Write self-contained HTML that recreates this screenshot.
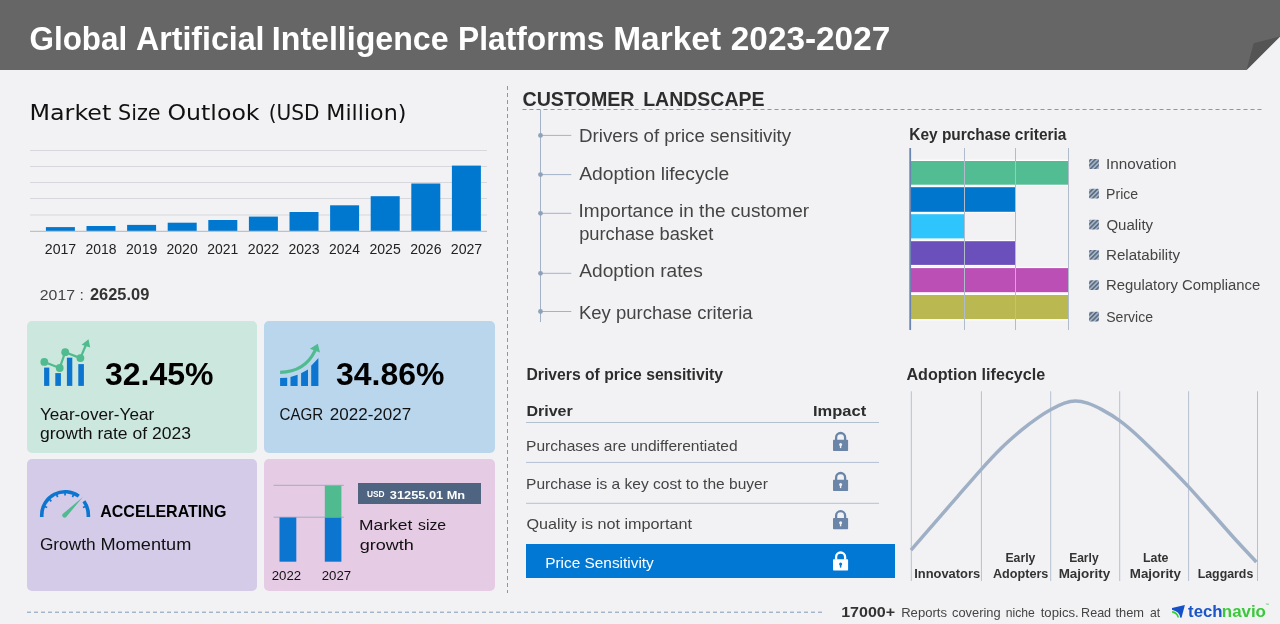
<!DOCTYPE html>
<html lang="en">
<head>
<meta charset="utf-8">
<title>Global Artificial Intelligence Platforms Market 2023-2027</title>
<style>
html,body{margin:0;padding:0;}
body{width:1280px;height:624px;overflow:hidden;background:#f2f2f4;font-family:"Liberation Sans",sans-serif;}
#page{position:relative;width:1280px;height:624px;overflow:hidden;background:#f2f2f4;}
.t{position:absolute;transform-origin:0 0;white-space:nowrap;line-height:1;margin:0;padding:0;display:block;font-style:normal;}
h1,h2,h3,b,li,span{margin:0;padding:0;}
ul{margin:0;padding:0;list-style:none;}
.abs{position:absolute;}
#hdr{position:absolute;left:0;top:0;width:1280px;height:70px;background:#666;clip-path:polygon(0 0,1280px 0,1280px 36.5px,1246.5px 70px,0 70px);}
#fold{position:absolute;left:0;top:0;width:1280px;height:70px;}
.card{position:absolute;border-radius:5px;}
#c1{left:27px;top:321px;width:230px;height:131.5px;background:#cce7dd;}
#c2{left:264px;top:321px;width:231px;height:131.5px;background:#b9d6ed;}
#c3{left:27px;top:459px;width:230px;height:131.5px;background:#d3cbe8;}
#c4{left:264px;top:459px;width:231px;height:131.5px;background:#e6cbe5;}
#usd{position:absolute;left:358px;top:483px;width:123px;height:20.7px;background:#4f6480;}
#ps{position:absolute;left:526px;top:544.2px;width:369px;height:34.3px;background:#0078d4;}
svg{position:absolute;left:0;top:0;overflow:visible;}
</style>
</head>
<body>
<div id="page">

<header>
  <div id="hdr"></div>
  <svg id="fold" width="1280" height="70" viewBox="0 0 1280 70"><polygon points="1246.5,70 1253.7,43.3 1280,36.5" fill="#545454"/></svg>
  <h1 style="margin:0;font-size:32px;font-weight:700"><span class="t" id="t0" style="left:29px;top:22px;font-size:33px;font-weight:700;color:#fff;font-family:'Liberation Sans', sans-serif;transform:translateX(0.51px) scaleX(0.9508);">Global</span>
<span class="t" id="t1" style="left:135px;top:22px;font-size:33px;font-weight:700;color:#fff;font-family:'Liberation Sans', sans-serif;transform:translateX(0.98px) scaleX(0.9737);">Artificial</span>
<span class="t" id="t2" style="left:271px;top:22px;font-size:33px;font-weight:700;color:#fff;font-family:'Liberation Sans', sans-serif;transform:translateX(0.83px) scaleX(0.9735);">Intelligence</span>
<span class="t" id="t3" style="left:457px;top:22px;font-size:33px;font-weight:700;color:#fff;font-family:'Liberation Sans', sans-serif;transform:translateX(0.97px) scaleX(0.9627);">Platforms</span>
<span class="t" id="t4" style="left:613px;top:22px;font-size:33px;font-weight:700;color:#fff;font-family:'Liberation Sans', sans-serif;transform:translateX(0.27px) scaleX(1.0128);">Market</span>
<span class="t" id="t5" style="left:730px;top:22px;font-size:33px;font-weight:700;color:#fff;font-family:'Liberation Sans', sans-serif;transform:translateX(0.83px) scaleX(1.0101);">2023-2027</span></h1>
</header>

<section id="market">
  <h2 style="margin:0;font-size:21px;font-weight:400"><span class="t" id="t6" style="left:29px;top:102px;font-size:21.5px;font-weight:400;color:#111;font-family:'DejaVu Sans', 'Liberation Sans', sans-serif;transform:translateX(0.52px) scaleX(1.1061);">Market</span>
<span class="t" id="t7" style="left:117px;top:102px;font-size:21.5px;font-weight:400;color:#111;font-family:'DejaVu Sans', 'Liberation Sans', sans-serif;transform:translateX(1.00px) scaleX(0.9662);">Size</span>
<span class="t" id="t8" style="left:167px;top:102px;font-size:21.5px;font-weight:400;color:#111;font-family:'DejaVu Sans', 'Liberation Sans', sans-serif;transform:translateX(0.41px) scaleX(1.1009);">Outlook</span>
<span class="t" id="t9" style="left:268px;top:102px;font-size:21.5px;font-weight:400;color:#111;font-family:'DejaVu Sans', 'Liberation Sans', sans-serif;transform:translateX(0.70px) scaleX(0.9375);">(USD</span>
<span class="t" id="t10" style="left:326px;top:102px;font-size:21.5px;font-weight:400;color:#111;font-family:'DejaVu Sans', 'Liberation Sans', sans-serif;transform:translateX(0.32px) scaleX(1.0314);">Million)</span></h2>
  <svg width="1280" height="624" viewBox="0 0 1280 624">
    <g stroke="#d6d8dd" stroke-width="1">
      <line x1="30" y1="150.5" x2="487" y2="150.5"/>
      <line x1="30" y1="166.5" x2="487" y2="166.5"/>
      <line x1="30" y1="182.5" x2="487" y2="182.5"/>
      <line x1="30" y1="198.5" x2="487" y2="198.5"/>
      <line x1="30" y1="215" x2="487" y2="215"/>
    </g>
    <g fill="#0078d0">
      <rect x="45.9" y="227.1" width="29" height="4"/>
      <rect x="86.5" y="226" width="29" height="5.1"/>
      <rect x="127.1" y="224.9" width="29" height="6.2"/>
      <rect x="167.7" y="222.7" width="29" height="8.4"/>
      <rect x="208.3" y="220" width="29" height="11.1"/>
      <rect x="248.9" y="216.6" width="29" height="14.5"/>
      <rect x="289.5" y="212" width="29" height="19.1"/>
      <rect x="330.1" y="205.3" width="29" height="25.8"/>
      <rect x="370.7" y="196.2" width="29" height="34.9"/>
      <rect x="411.3" y="183.5" width="29" height="47.6"/>
      <rect x="451.9" y="165.6" width="29" height="65.5"/>
    </g>
    <line x1="30" y1="231.3" x2="487" y2="231.3" stroke="#bfc1c6" stroke-width="1.2"/>
  </svg>
  <span class="t" id="t11" style="left:44px;top:242px;font-size:14px;font-weight:400;color:#222;font-family:'Liberation Sans', sans-serif;transform:translateX(0.78px) scaleX(1.0096);">2017</span>
<span class="t" id="t12" style="left:85px;top:242px;font-size:14px;font-weight:400;color:#222;font-family:'Liberation Sans', sans-serif;transform:translateX(0.47px) scaleX(0.9974);">2018</span>
<span class="t" id="t13" style="left:126px;top:242px;font-size:14px;font-weight:400;color:#222;font-family:'Liberation Sans', sans-serif;transform:translateX(0.06px) scaleX(1.0035);">2019</span>
<span class="t" id="t14" style="left:166px;top:242px;font-size:14px;font-weight:400;color:#222;font-family:'Liberation Sans', sans-serif;transform:translateX(0.49px) scaleX(1.0028);">2020</span>
<span class="t" id="t15" style="left:207px;top:242px;font-size:14px;font-weight:400;color:#222;font-family:'Liberation Sans', sans-serif;transform:translateX(0.23px) scaleX(0.9967);">2021</span>
<span class="t" id="t16" style="left:247px;top:242px;font-size:14px;font-weight:400;color:#222;font-family:'Liberation Sans', sans-serif;transform:translateX(0.78px) scaleX(1.0096);">2022</span>
<span class="t" id="t17" style="left:288px;top:242px;font-size:14px;font-weight:400;color:#222;font-family:'Liberation Sans', sans-serif;transform:translateX(0.47px) scaleX(1.0004);">2023</span>
<span class="t" id="t18" style="left:329px;top:242px;font-size:14px;font-weight:400;color:#222;font-family:'Liberation Sans', sans-serif;transform:translateX(0.10px) scaleX(0.9858);">2024</span>
<span class="t" id="t19" style="left:369px;top:242px;font-size:14px;font-weight:400;color:#222;font-family:'Liberation Sans', sans-serif;transform:translateX(0.49px) scaleX(1.0036);">2025</span>
<span class="t" id="t20" style="left:410px;top:242px;font-size:14px;font-weight:400;color:#222;font-family:'Liberation Sans', sans-serif;transform:translateX(0.22px) scaleX(1.0029);">2026</span>
<span class="t" id="t21" style="left:450px;top:242px;font-size:14px;font-weight:400;color:#222;font-family:'Liberation Sans', sans-serif;transform:translateX(0.78px) scaleX(1.0096);">2027</span>
  <p style="margin:0"><span class="t" id="t22" style="left:39px;top:287px;font-size:15.2px;font-weight:400;color:#444;font-family:'Liberation Sans', sans-serif;transform:translateX(0.79px) scaleX(1.0416);">2017 :</span>
<b class="t" id="t23" style="left:89px;top:287px;font-size:15.8px;font-weight:700;color:#333;font-family:'Liberation Sans', sans-serif;transform:translateX(0.97px) scaleX(1.0387);">2625.09</b></p>
</section>

<section id="cards">
  <div class="card" id="c1"></div>
  <div class="card" id="c2"></div>
  <div class="card" id="c3"></div>
  <div class="card" id="c4"></div>
  <svg width="1280" height="624" viewBox="0 0 1280 624">
    <!-- card 1 icon -->
    <g fill="#0b75d0">
      <rect x="44.1" y="367.6" width="5.2" height="18.3"/>
      <rect x="55.3" y="373.1" width="5.6" height="12.8"/>
      <rect x="66.9" y="357.7" width="5.4" height="28.2"/>
      <rect x="78.3" y="364.1" width="5.6" height="21.8"/>
    </g>
    <g fill="#4fbb8e" stroke="none">
      <polyline points="44.3,361.9 59.7,368 65.2,352.2 80.4,358.1 86.3,344" fill="none" stroke="#4fbb8e" stroke-width="2.2" stroke-linejoin="round"/>
      <circle cx="44.3" cy="361.9" r="3.9"/>
      <circle cx="59.7" cy="368" r="3.9"/>
      <circle cx="65.2" cy="352.2" r="3.9"/>
      <circle cx="80.4" cy="358.1" r="3.9"/>
      <polygon points="88.5,339.3 81.6,344.8 90.2,347.6"/>
    </g>
    <!-- card 2 icon -->
    <g fill="#0b75d0">
      <polygon points="280.1,378 287.2,377.7 287.2,385.9 280.1,385.9"/>
      <polygon points="290.5,376.9 297.6,374.8 297.6,385.9 290.5,385.9"/>
      <polygon points="301.1,373.3 308,369.5 308,385.9 301.1,385.9"/>
      <polygon points="311.2,365.8 318.4,358.1 318.4,385.9 311.2,385.9"/>
    </g>
    <path d="M280.1,372.3 Q305,372 315.2,350.4" fill="none" stroke="#4fbb8e" stroke-width="3.2"/>
    <polygon points="309.9,348.7 317.8,343.8 320,352.6" fill="#4fbb8e"/>
    <!-- card 3 gauge -->
    <g id="gauge">
      <path d="M41.75,517.1 L41.75,515.00 A23.3,23.3 0 0 1 78.75,496.15 M83.90,501.30 A23.3,23.3 0 0 1 88.35,515.00 L88.35,517.1" fill="none" stroke="#0b75d0" stroke-width="3.6"/>
      <g stroke="#0b75d0" stroke-width="1.7"><line x1="44.72" y1="506.58" x2="47.13" y2="507.58"/><line x1="49.49" y1="499.44" x2="51.33" y2="501.28"/><line x1="56.63" y1="494.67" x2="57.63" y2="497.08"/><line x1="65.05" y1="493.00" x2="65.05" y2="495.60"/><line x1="73.47" y1="494.67" x2="72.47" y2="497.08"/><line x1="85.38" y1="506.58" x2="82.97" y2="507.58"/></g>
      <path d="M66.24,517.02 L82.90,496.90 L62.96,513.78 A2.3,2.3 0 0 0 66.24,517.02 Z" fill="#4fbb8e"/>
    </g>
    <!-- card 4 chart -->
    <line x1="273.6" y1="485.3" x2="343.9" y2="485.3" stroke="#97a8be" stroke-width="0.9"/>
    <line x1="273.6" y1="517.2" x2="343.9" y2="517.2" stroke="#97a8be" stroke-width="0.9"/>
    <rect x="279.5" y="517.5" width="16.8" height="44.2" fill="#0b75d0"/>
    <rect x="324.8" y="517.5" width="16.6" height="44.2" fill="#0b75d0"/>
    <rect x="324.8" y="485.6" width="16.6" height="31.6" fill="#4fbb8e"/>
  </svg>
  <b class="t" id="t24" style="left:104px;top:359px;font-size:31px;font-weight:700;color:#000;font-family:'Liberation Sans', sans-serif;transform:translateX(0.98px) scaleX(1.0326);">32.45%</b>
<span class="t" id="t25" style="left:39px;top:407px;font-size:15.8px;font-weight:400;color:#111;font-family:'Liberation Sans', sans-serif;transform:translateX(0.90px) scaleX(1.0879);">Year-over-Year</span>
<span class="t" id="t26" style="left:39px;top:426px;font-size:15.8px;font-weight:400;color:#111;font-family:'Liberation Sans', sans-serif;transform:translateX(0.97px) scaleX(1.1091);">growth rate of 2023</span>
  <b class="t" id="t27" style="left:335px;top:359px;font-size:31px;font-weight:700;color:#000;font-family:'Liberation Sans', sans-serif;transform:translateX(0.99px) scaleX(1.0302);">34.86%</b>
<span class="t" id="t28" style="left:279px;top:407px;font-size:15.8px;font-weight:400;color:#111;font-family:'Liberation Sans', sans-serif;transform:translateX(0.47px) scaleX(0.9587);">CAGR</span>
<span class="t" id="t29" style="left:329px;top:407px;font-size:15.8px;font-weight:400;color:#111;font-family:'Liberation Sans', sans-serif;transform:translateX(0.80px) scaleX(1.0767);">2022-2027</span>
  <b class="t" id="t30" style="left:100px;top:503px;font-size:16.3px;font-weight:700;color:#000;font-family:'Liberation Sans', sans-serif;transform:translateX(0.23px) scaleX(0.9842);">ACCELERATING</b>
<span class="t" id="t31" style="left:39px;top:536px;font-size:16.2px;font-weight:400;color:#111;font-family:'Liberation Sans', sans-serif;transform:translateX(0.93px) scaleX(1.0673);">Growth</span>
<span class="t" id="t32" style="left:100px;top:536px;font-size:16.2px;font-weight:400;color:#111;font-family:'Liberation Sans', sans-serif;transform:translateX(0.50px) scaleX(1.1210);">Momentum</span>
  <div id="usd"></div>
  <span class="t" id="t33" style="left:271px;top:569px;font-size:13.7px;font-weight:400;color:#111;font-family:'Liberation Sans', sans-serif;transform:translateX(0.73px) scaleX(0.9666);">2022</span>
<span class="t" id="t34" style="left:321px;top:569px;font-size:13.7px;font-weight:400;color:#111;font-family:'Liberation Sans', sans-serif;transform:translateX(0.67px) scaleX(0.9660);">2027</span>
<span class="t" id="t35" style="left:366px;top:489px;font-size:9.8px;font-weight:700;color:#fff;font-family:'Liberation Sans', sans-serif;transform:translateX(0.99px) scaleX(0.8534);">USD</span>
<b class="t" id="t36" style="left:389px;top:490px;font-size:11.8px;font-weight:700;color:#fff;font-family:'Liberation Sans', sans-serif;transform:translateX(0.84px) scaleX(1.0828);">31255.01 Mn</b>
<span class="t" id="t37" style="left:359px;top:517px;font-size:15.5px;font-weight:400;color:#111;font-family:'Liberation Sans', sans-serif;transform:translateX(0.09px) scaleX(1.1245);">Market</span>
<span class="t" id="t38" style="left:417px;top:517px;font-size:15.5px;font-weight:400;color:#111;font-family:'Liberation Sans', sans-serif;transform:translateX(0.99px) scaleX(1.0202);">size</span>
<span class="t" id="t39" style="left:359px;top:537px;font-size:15.5px;font-weight:400;color:#111;font-family:'Liberation Sans', sans-serif;transform:translateX(0.68px) scaleX(1.1647);">growth</span>
</section>

<section id="landscape">
  <svg width="1280" height="624" viewBox="0 0 1280 624">
    <line x1="507.5" y1="86" x2="507.5" y2="593" stroke="#7f9ab5" stroke-width="1" stroke-dasharray="4 3"/>
    <line x1="522.5" y1="109.5" x2="1262" y2="109.5" stroke="#7f9ab5" stroke-width="1" stroke-dasharray="4 3"/>
    <line x1="27" y1="612.2" x2="822" y2="612.2" stroke="#7f9ab5" stroke-width="1" stroke-dasharray="4 3"/>
    <!-- tree -->
    <g stroke="#a3b2c7" stroke-width="1" fill="#8fa1b9">
      <line x1="540.5" y1="110" x2="540.5" y2="322"/>
      <line x1="540.5" y1="135.4" x2="571.3" y2="135.4"/>
      <line x1="540.5" y1="174.6" x2="571.3" y2="174.6"/>
      <line x1="540.5" y1="213.3" x2="571.3" y2="213.3"/>
      <line x1="540.5" y1="273.3" x2="571.3" y2="273.3"/>
      <line x1="540.5" y1="311.5" x2="571.3" y2="311.5"/>
      <circle cx="540.5" cy="135.4" r="2.4" stroke="none"/>
      <circle cx="540.5" cy="174.6" r="2.4" stroke="none"/>
      <circle cx="540.5" cy="213.3" r="2.4" stroke="none"/>
      <circle cx="540.5" cy="273.3" r="2.4" stroke="none"/>
      <circle cx="540.5" cy="311.5" r="2.4" stroke="none"/>
    </g>
  </svg>
  <h2 style="margin:0;font-size:20px"><b class="t" id="t40" style="left:522px;top:88px;font-size:21px;font-weight:700;color:#2d2d2d;font-family:'Liberation Sans', sans-serif;transform:translateX(0.48px) scaleX(0.9357);">CUSTOMER</b>
<b class="t" id="t41" style="left:643px;top:88px;font-size:21px;font-weight:700;color:#2d2d2d;font-family:'Liberation Sans', sans-serif;transform:translateX(0.18px) scaleX(0.9289);">LANDSCAPE</b></h2>
  <ul><li class="t" id="t42" style="left:579px;top:128px;font-size:17.5px;font-weight:400;color:#444;font-family:'Liberation Sans', sans-serif;transform:translateX(0.04px) scaleX(1.0690);">Drivers of price sensitivity</li>
<li class="t" id="t43" style="left:579px;top:166px;font-size:17.5px;font-weight:400;color:#444;font-family:'Liberation Sans', sans-serif;transform:translateX(0.25px) scaleX(1.1015);">Adoption lifecycle</li>
<li class="t" id="t44" style="left:578px;top:203px;font-size:17.5px;font-weight:400;color:#444;font-family:'Liberation Sans', sans-serif;transform:translateX(0.54px) scaleX(1.0874);">Importance in the customer</li>
<li class="t" id="t45" style="left:579px;top:226px;font-size:17.5px;font-weight:400;color:#444;font-family:'Liberation Sans', sans-serif;transform:translateX(0.13px) scaleX(1.0453);">purchase basket</li>
<li class="t" id="t46" style="left:579px;top:263px;font-size:17.5px;font-weight:400;color:#444;font-family:'Liberation Sans', sans-serif;transform:translateX(0.27px) scaleX(1.0937);">Adoption rates</li>
<li class="t" id="t47" style="left:578px;top:305px;font-size:17.5px;font-weight:400;color:#444;font-family:'Liberation Sans', sans-serif;transform:translateX(0.88px) scaleX(1.0572);">Key purchase criteria</li></ul>
</section>

<section id="kpc">
  <svg width="1280" height="624" viewBox="0 0 1280 624">
    <defs>
      <pattern id="hatch" width="3.2" height="3.2" patternUnits="userSpaceOnUse" patternTransform="rotate(-45)">
        <rect width="3.2" height="3.2" fill="#a9b8ca"/>
        <rect width="3.2" height="1.7" fill="#5c6c82"/>
      </pattern>
    </defs>
    <g>
      <rect x="910" y="159.7" width="158.2" height="26.3" fill="#fff"/>
      <rect x="910" y="161.0" width="158.2" height="23.7" fill="#52bc93"/>
      <rect x="910" y="185.9" width="105.2" height="27.2" fill="#fff"/>
      <rect x="910" y="187.2" width="105.2" height="24.6" fill="#0077cc"/>
      <rect x="910" y="212.9" width="54.2" height="26.8" fill="#fff"/>
      <rect x="910" y="214.2" width="54.2" height="24.2" fill="#2ec4fc"/>
      <rect x="910" y="239.9" width="105.2" height="26.3" fill="#fff"/>
      <rect x="910" y="241.2" width="105.2" height="23.7" fill="#6b4fbb"/>
      <rect x="910" y="266.8" width="158.2" height="26.7" fill="#fff"/>
      <rect x="910" y="268.1" width="158.2" height="24.1" fill="#bb4fb5"/>
      <rect x="910" y="293.7" width="158.2" height="26.7" fill="#fff"/>
      <rect x="910" y="295.0" width="158.2" height="24.1" fill="#bab850"/>
    </g>
    <g stroke="#b0bbcc" stroke-width="1">
      <line x1="964.5" y1="148" x2="964.5" y2="330"/>
      <line x1="1015.5" y1="148" x2="1015.5" y2="330"/>
      <line x1="1068.5" y1="148" x2="1068.5" y2="330"/>
    </g>
    <line x1="910.2" y1="148" x2="910.2" y2="330" stroke="#6a86b0" stroke-width="1.8"/>
    <g fill="url(#hatch)">
      <rect x="1089.1" y="159.1" width="9.8" height="9.8" rx="1"/>
      <rect x="1089.1" y="188.8" width="9.8" height="9.8" rx="1"/>
      <rect x="1089.1" y="219.8" width="9.8" height="9.8" rx="1"/>
      <rect x="1089.1" y="250" width="9.8" height="9.8" rx="1"/>
      <rect x="1089.1" y="280.2" width="9.8" height="9.8" rx="1"/>
      <rect x="1089.1" y="311.7" width="9.8" height="9.8" rx="1"/>
    </g>
  </svg>
  <h3 class="t" id="t48" style="left:909px;top:127px;font-size:16px;font-weight:700;color:#2d2d2d;font-family:'Liberation Sans', sans-serif;transform:translateX(0.30px) scaleX(0.9650);">Key purchase criteria</h3>
<span class="t" id="t49" style="left:1106px;top:157px;font-size:14.7px;font-weight:400;color:#444;font-family:'Liberation Sans', sans-serif;transform:translateX(0.06px) scaleX(1.0379);">Innovation</span>
<span class="t" id="t50" style="left:1106px;top:187px;font-size:14.7px;font-weight:400;color:#444;font-family:'Liberation Sans', sans-serif;transform:translateX(0.08px) scaleX(0.9566);">Price</span>
<span class="t" id="t51" style="left:1106px;top:218px;font-size:14.7px;font-weight:400;color:#444;font-family:'Liberation Sans', sans-serif;transform:translateX(0.42px) scaleX(1.0212);">Quality</span>
<span class="t" id="t52" style="left:1105px;top:248px;font-size:14.7px;font-weight:400;color:#444;font-family:'Liberation Sans', sans-serif;transform:translateX(0.98px) scaleX(1.0301);">Relatability</span>
<span class="t" id="t53" style="left:1106px;top:278px;font-size:14.7px;font-weight:400;color:#444;font-family:'Liberation Sans', sans-serif;transform:translateX(0.05px) scaleX(1.0103);">Regulatory Compliance</span>
<span class="t" id="t54" style="left:1106px;top:310px;font-size:14.7px;font-weight:400;color:#444;font-family:'Liberation Sans', sans-serif;transform:translateX(0.25px) scaleX(0.9560);">Service</span>
</section>

<section id="drivers">
  <svg width="1280" height="624" viewBox="0 0 1280 624">
    
    <g stroke="#b3c0d2" stroke-width="1">
      <line x1="526" y1="422.5" x2="879" y2="422.5"/>
      <line x1="526" y1="462.4" x2="879" y2="462.4"/>
      <line x1="526" y1="503.3" x2="879" y2="503.3"/>
    </g>
  </svg>
  <div id="ps"></div>
  <svg width="1280" height="624" viewBox="0 0 1280 624">
    <g transform="translate(833,431.9)">
      <path d="M3.1,8.2 V5.6 A4.5,4.5 0 0 1 12.1,5.6 V8.2" fill="none" stroke-width="2.3" stroke="#6a85a8"/>
      <rect x="0" y="7.9" width="15.1" height="11.2" rx="0.8" fill="#6a85a8"/>
      <circle cx="7.6" cy="12.6" r="1.5" fill="#f2f2f4"/>
      <rect x="6.9" y="12.8" width="1.4" height="3.4" fill="#f2f2f4"/>
    </g>
    <g transform="translate(833,471.9)">
      <path d="M3.1,8.2 V5.6 A4.5,4.5 0 0 1 12.1,5.6 V8.2" fill="none" stroke-width="2.3" stroke="#6a85a8"/>
      <rect x="0" y="7.9" width="15.1" height="11.2" rx="0.8" fill="#6a85a8"/>
      <circle cx="7.6" cy="12.6" r="1.5" fill="#f2f2f4"/>
      <rect x="6.9" y="12.8" width="1.4" height="3.4" fill="#f2f2f4"/>
    </g>
    <g transform="translate(833,510.1)">
      <path d="M3.1,8.2 V5.6 A4.5,4.5 0 0 1 12.1,5.6 V8.2" fill="none" stroke-width="2.3" stroke="#6a85a8"/>
      <rect x="0" y="7.9" width="15.1" height="11.2" rx="0.8" fill="#6a85a8"/>
      <circle cx="7.6" cy="12.6" r="1.5" fill="#f2f2f4"/>
      <rect x="6.9" y="12.8" width="1.4" height="3.4" fill="#f2f2f4"/>
    </g>
    <g transform="translate(833,551.4)">
      <path d="M3.1,8.2 V5.6 A4.5,4.5 0 0 1 12.1,5.6 V8.2" fill="none" stroke-width="2.3" stroke="#fff"/>
      <rect x="0" y="7.9" width="15.1" height="11.2" rx="0.8" fill="#fff"/>
      <circle cx="7.6" cy="12.6" r="1.5" fill="#0078d4"/>
      <rect x="6.9" y="12.8" width="1.4" height="3.4" fill="#0078d4"/>
    </g>
  </svg>
  <h3 class="t" id="t55" style="left:526px;top:367px;font-size:16px;font-weight:700;color:#2d2d2d;font-family:'Liberation Sans', sans-serif;transform:translateX(0.49px) scaleX(0.9821);">Drivers of price sensitivity</h3>
<b class="t" id="t56" style="left:526px;top:403px;font-size:15px;font-weight:700;color:#2d2d2d;font-family:'Liberation Sans', sans-serif;transform:translateX(0.39px) scaleX(1.0691);">Driver</b>
<b class="t" id="t57" style="left:813px;top:403px;font-size:15px;font-weight:700;color:#2d2d2d;font-family:'Liberation Sans', sans-serif;transform:translateX(0.01px) scaleX(1.0999);">Impact</b>
<span class="t" id="t58" style="left:526px;top:438px;font-size:15px;font-weight:400;color:#444;font-family:'Liberation Sans', sans-serif;transform:translateX(0.09px) scaleX(1.0364);">Purchases are undifferentiated</span>
<span class="t" id="t59" style="left:526px;top:476px;font-size:15px;font-weight:400;color:#444;font-family:'Liberation Sans', sans-serif;transform:translateX(0.09px) scaleX(1.0356);">Purchase is a key cost to the buyer</span>
<span class="t" id="t60" style="left:526px;top:516px;font-size:15px;font-weight:400;color:#444;font-family:'Liberation Sans', sans-serif;transform:translateX(0.47px) scaleX(1.0785);">Quality is not important</span>
<span class="t" id="t61" style="left:545px;top:555px;font-size:15.2px;font-weight:400;color:#fff;font-family:'Liberation Sans', sans-serif;transform:translateX(0.14px) scaleX(1.0136);">Price Sensitivity</span>
</section>

<section id="adoption">
  <svg width="1280" height="624" viewBox="0 0 1280 624">
    <g stroke="#b5c0d0" stroke-width="1">
      <line x1="911.3" y1="391.3" x2="911.3" y2="581"/>
      <line x1="981.4" y1="391.3" x2="981.4" y2="581"/>
      <line x1="1050.7" y1="391.3" x2="1050.7" y2="581"/>
      <line x1="1119.7" y1="391.3" x2="1119.7" y2="581"/>
      <line x1="1188.6" y1="391.3" x2="1188.6" y2="581"/>
      <line x1="1257.5" y1="391.3" x2="1257.5" y2="581"/>
    </g>
    <path id="curve" d="M911,550.2 C914.8,545.8 926.2,532.6 934,523.6 C941.8,514.6 949.8,505.4 957.7,496.3 C965.6,487.2 974.1,477.3 981.3,469.3 C988.5,461.3 994.3,455.0 1000.9,448.5 C1007.5,442.0 1014.9,435.6 1021.1,430.4 C1027.4,425.2 1033.5,420.8 1038.4,417.4 C1043.3,414.0 1046.2,412.2 1050.5,409.8 C1054.8,407.4 1060.2,404.7 1064.4,403.2 C1068.6,401.7 1071.7,401.0 1075.5,401 C1079.3,401.0 1083.1,401.7 1087.5,403.1 C1091.9,404.5 1096.6,406.7 1101.9,409.6 C1107.2,412.5 1113.4,416.1 1119.2,420.3 C1125.0,424.5 1128.8,427.6 1136.5,434.7 C1144.2,441.8 1156.6,454.0 1165.3,462.7 C1174.0,471.4 1180.7,478.3 1188.4,486.6 C1196.1,494.9 1203.8,503.9 1211.5,512.5 C1219.2,521.1 1227.0,530.2 1234.5,538.5 C1242.0,546.8 1252.8,558.1 1256.4,562" fill="none" stroke="#9fb0c6" stroke-width="3.5"/>
  </svg>
  <h3 class="t" id="t62" style="left:906px;top:367px;font-size:16px;font-weight:700;color:#2d2d2d;font-family:'Liberation Sans', sans-serif;transform:translateX(0.41px) scaleX(1.0074);">Adoption lifecycle</h3>
<b class="t" id="t63" style="left:914px;top:568px;font-size:12.9px;font-weight:700;color:#333;font-family:'Liberation Sans', sans-serif;transform:translateX(0.21px) scaleX(1.0005);">Innovators</b>
<b class="t" id="t64" style="left:1005px;top:552px;font-size:12.9px;font-weight:700;color:#333;font-family:'Liberation Sans', sans-serif;transform:translateX(0.42px) scaleX(0.9507);">Early</b>
<b class="t" id="t65" style="left:992px;top:568px;font-size:12.9px;font-weight:700;color:#333;font-family:'Liberation Sans', sans-serif;transform:translateX(0.93px) scaleX(0.9794);">Adopters</b>
<b class="t" id="t66" style="left:1069px;top:552px;font-size:12.9px;font-weight:700;color:#333;font-family:'Liberation Sans', sans-serif;transform:translateX(0.14px) scaleX(0.9344);">Early</b>
<b class="t" id="t67" style="left:1058px;top:568px;font-size:12.9px;font-weight:700;color:#333;font-family:'Liberation Sans', sans-serif;transform:translateX(0.65px) scaleX(1.0438);">Majority</b>
<b class="t" id="t68" style="left:1142px;top:552px;font-size:12.9px;font-weight:700;color:#333;font-family:'Liberation Sans', sans-serif;transform:translateX(0.94px) scaleX(0.9609);">Late</b>
<b class="t" id="t69" style="left:1129px;top:568px;font-size:12.9px;font-weight:700;color:#333;font-family:'Liberation Sans', sans-serif;transform:translateX(0.82px) scaleX(1.0344);">Majority</b>
<b class="t" id="t70" style="left:1197px;top:568px;font-size:12.9px;font-weight:700;color:#333;font-family:'Liberation Sans', sans-serif;transform:translateX(0.69px) scaleX(0.9582);">Laggards</b>
</section>

<footer>
  <svg width="1280" height="624" viewBox="0 0 1280 624">
    <path d="M1172,608.1 L1184.9,605.1 L1181.5,617.8 L1180.1,617.4 Q1179.6,611.6 1172,609.8 Z" fill="#1450c8"/>
    <path d="M1172.1,611.1 Q1178,611.7 1179,617.4 L1177.4,617.4 Q1176.8,613.7 1172.1,612.7 Z" fill="#32d232"/>
  </svg>
  <p style="margin:0"><b class="t" id="t71" style="left:841px;top:604px;font-size:15px;font-weight:700;color:#333;font-family:'Liberation Sans', sans-serif;transform:translateX(0.17px) scaleX(1.0700);">17000+</b>
<span class="t" id="t72" style="left:901px;top:606px;font-size:13.2px;font-weight:400;color:#444;font-family:'Liberation Sans', sans-serif;transform:translateX(0.17px) scaleX(0.9918);">Reports</span>
<span class="t" id="t73" style="left:951px;top:606px;font-size:13.2px;font-weight:400;color:#444;font-family:'Liberation Sans', sans-serif;transform:translateX(0.98px) scaleX(0.9749);">covering</span>
<span class="t" id="t74" style="left:1005px;top:606px;font-size:13.2px;font-weight:400;color:#444;font-family:'Liberation Sans', sans-serif;transform:translateX(0.71px) scaleX(0.9219);">niche</span>
<span class="t" id="t75" style="left:1040px;top:606px;font-size:13.2px;font-weight:400;color:#444;font-family:'Liberation Sans', sans-serif;transform:translateX(0.66px) scaleX(0.9983);">topics.</span>
<span class="t" id="t76" style="left:1081px;top:606px;font-size:13.2px;font-weight:400;color:#444;font-family:'Liberation Sans', sans-serif;transform:translateX(0.11px) scaleX(0.9512);">Read</span>
<span class="t" id="t77" style="left:1115px;top:606px;font-size:13.2px;font-weight:400;color:#444;font-family:'Liberation Sans', sans-serif;transform:translateX(0.47px) scaleX(0.9753);">them</span>
<span class="t" id="t78" style="left:1149px;top:606px;font-size:13.2px;font-weight:400;color:#444;font-family:'Liberation Sans', sans-serif;transform:translateX(0.94px) scaleX(0.9272);">at</span></p>
  <div id="logo"><b class="t" id="t79" style="left:1188px;top:603px;font-size:16.5px;font-weight:700;color:#1a56c8;font-family:'Liberation Sans', sans-serif;transform:translateX(0.12px) scaleX(1.0160);">tech</b><b class="t" id="t80" style="left:1221px;top:603px;font-size:16.5px;font-weight:700;color:#3cc83c;font-family:'Liberation Sans', sans-serif;transform:translateX(0.86px) scaleX(1.0221);">navio</b><span class="t" id="t81" style="left:1265px;top:603px;font-size:4px;font-weight:400;color:#3cc83c;font-family:'Liberation Sans', sans-serif;transform:translateX(0.08px) scaleX(1.0000);">™</span></div>
</footer>

</div>
</body>
</html>
